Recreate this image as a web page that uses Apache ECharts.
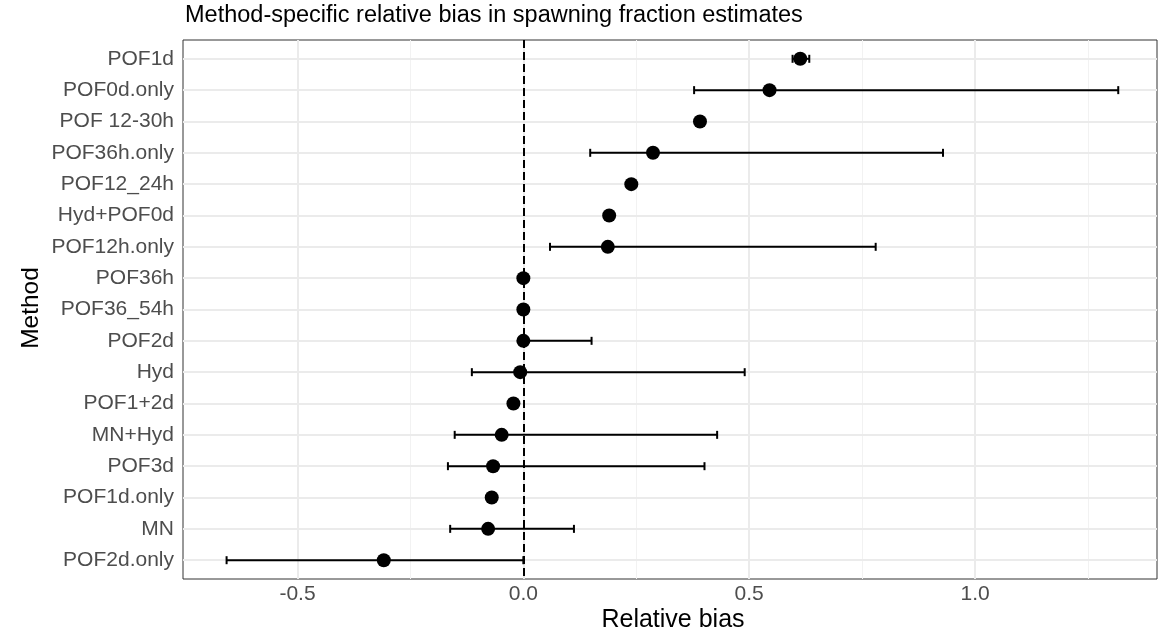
<!DOCTYPE html>
<html>
<head>
<meta charset="utf-8">
<script src="https://cdn.jsdelivr.net/npm/echarts@6/dist/echarts.min.js"></script>
<style>
html,body{margin:0;padding:0;background:#fff;}
#c{width:1166px;height:634px;}
</style>
</head>
<body>
<div id="c"></div>
<script>
// Data (top to bottom)
var methods = ['POF1d','POF0d.only','POF 12-30h','POF36h.only','POF12_24h','Hyd+POF0d','POF12h.only','POF36h','POF36_54h','POF2d','Hyd','POF1+2d','MN+Hyd','POF3d','POF1d.only','MN','POF2d.only'];
var bias    = [0.613, 0.545, 0.391, 0.287, 0.239, 0.190, 0.187, 0.000, 0.000, 0.000, -0.007, -0.022, -0.048, -0.067, -0.070, -0.078, -0.309];
var lower   = [0.596, 0.378, null, 0.148, null, null, 0.059, null, null, 0.000, -0.114, null, -0.152, -0.167, null, -0.162, -0.657];
var upper   = [0.633, 1.317, null, 0.929, null, null, 0.780, null, null, 0.151, 0.490, null, 0.429, 0.401, null, 0.112, 0.000];
var xTicks  = [-0.5, 0.0, 0.5, 1.0];
var xMinor  = [-0.25, 0.25, 0.75, 1.25];

var FONT = '"Liberation Sans", Arial, Helvetica, sans-serif';
var idx = methods.map(function(_, i){ return i; });

var errData = [];
for (var i = 0; i < methods.length; i++) {
  if (lower[i] !== null && upper[i] !== null) errData.push([i, lower[i], upper[i]]);
}
var ptData = bias.map(function(v, i){ return [v, i]; });

var chart = echarts.init(document.getElementById('c'), null, {renderer: 'canvas'});
chart.setOption({
  animation: false,
  backgroundColor: '#ffffff',
  title: {
    text: 'Method-specific relative bias in spawning fraction estimates',
    left: 185, top: 4, padding: 0,
    textStyle: {fontFamily: FONT, fontSize: 23.5, fontWeight: 'normal', color: '#000'}
  },
  grid: {
    left: 183, right: 9, top: 40, bottom: 55,
    show: true, borderColor: '#333333', borderWidth: 1, backgroundColor: 'transparent'
  },
  xAxis: {
    type: 'value', min: -0.7535, max: 1.4028,
    axisLine: {show: false},
    splitLine: {show: false},
    axisTick: {show: true, customValues: xTicks, length: 5, lineStyle: {color: '#333333', width: 1}},
    axisLabel: {customValues: xTicks, margin: 5, color: '#4d4d4d', fontFamily: FONT, fontSize: 21,
      formatter: function(v){ return v.toFixed(1); }}
  },
  yAxis: {
    type: 'value', inverse: true, min: -0.6, max: 16.6,
    axisLine: {show: false},
    splitLine: {show: false},
    axisTick: {show: true, customValues: idx, length: 5, lineStyle: {color: '#333333', width: 1}},
    axisLabel: {customValues: idx, margin: 9, color: '#4d4d4d', fontFamily: FONT, fontSize: 21,
      formatter: function(v){ return methods[Math.round(v)]; }}
  },
  graphic: [
    {type: 'text', x: 31, y: 308, rotation: Math.PI/2,
     style: {text: 'Method', fontFamily: FONT, fontSize: 24.5, fill: '#000', align: 'center', verticalAlign: 'middle'}},
    {type: 'text', x: 673, y: 620,
     style: {text: 'Relative bias', fontFamily: FONT, fontSize: 25, fill: '#000', align: 'center', verticalAlign: 'middle'}}
  ],
  series: [
    {
      type: 'line', data: [], silent: true, z: 1,
      markLine: {
        z: 1, silent: true, symbol: 'none', animation: false, label: {show: false},
        data: xMinor.map(function(v){ return {xAxis: v, lineStyle: {color: '#f2f2f2', width: 1, type: 'solid'}}; })
          .concat(xTicks.map(function(v){ return {xAxis: v, lineStyle: {color: '#ebebeb', width: 2, type: 'solid'}}; }))
          .concat(idx.map(function(v){ return {yAxis: v, lineStyle: {color: '#ebebeb', width: 2, type: 'solid'}}; }))
      }
    },
    {
      type: 'line', data: [], silent: true, z: 2,
      markLine: {
        z: 2, silent: true, symbol: 'none', animation: false, label: {show: false},
        data: [{xAxis: 0, lineStyle: {color: '#000', width: 2, type: [8, 4]}}]
      }
    },
    {
      type: 'custom', z: 3, silent: true,
      data: errData,
      renderItem: function(params, api){
        var row = api.value(0), lo = api.value(1), hi = api.value(2);
        var p1 = api.coord([lo, row]), p2 = api.coord([hi, row]);
        var h = 4;
        var st = {stroke: '#000', lineWidth: 2};
        return {type: 'group', children: [
          {type: 'line', shape: {x1: p1[0], y1: p1[1], x2: p2[0], y2: p2[1]}, style: st},
          {type: 'line', shape: {x1: p1[0], y1: p1[1]-h, x2: p1[0], y2: p1[1]+h}, style: st},
          {type: 'line', shape: {x1: p2[0], y1: p2[1]-h, x2: p2[0], y2: p2[1]+h}, style: st}
        ]};
      },
      encode: {x: [1, 2], y: 0}
    },
    {
      type: 'scatter', z: 4, silent: true,
      data: ptData, symbol: 'circle', symbolSize: 14,
      itemStyle: {color: '#000', opacity: 1}
    }
  ]
});
</script>
</body>
</html>
